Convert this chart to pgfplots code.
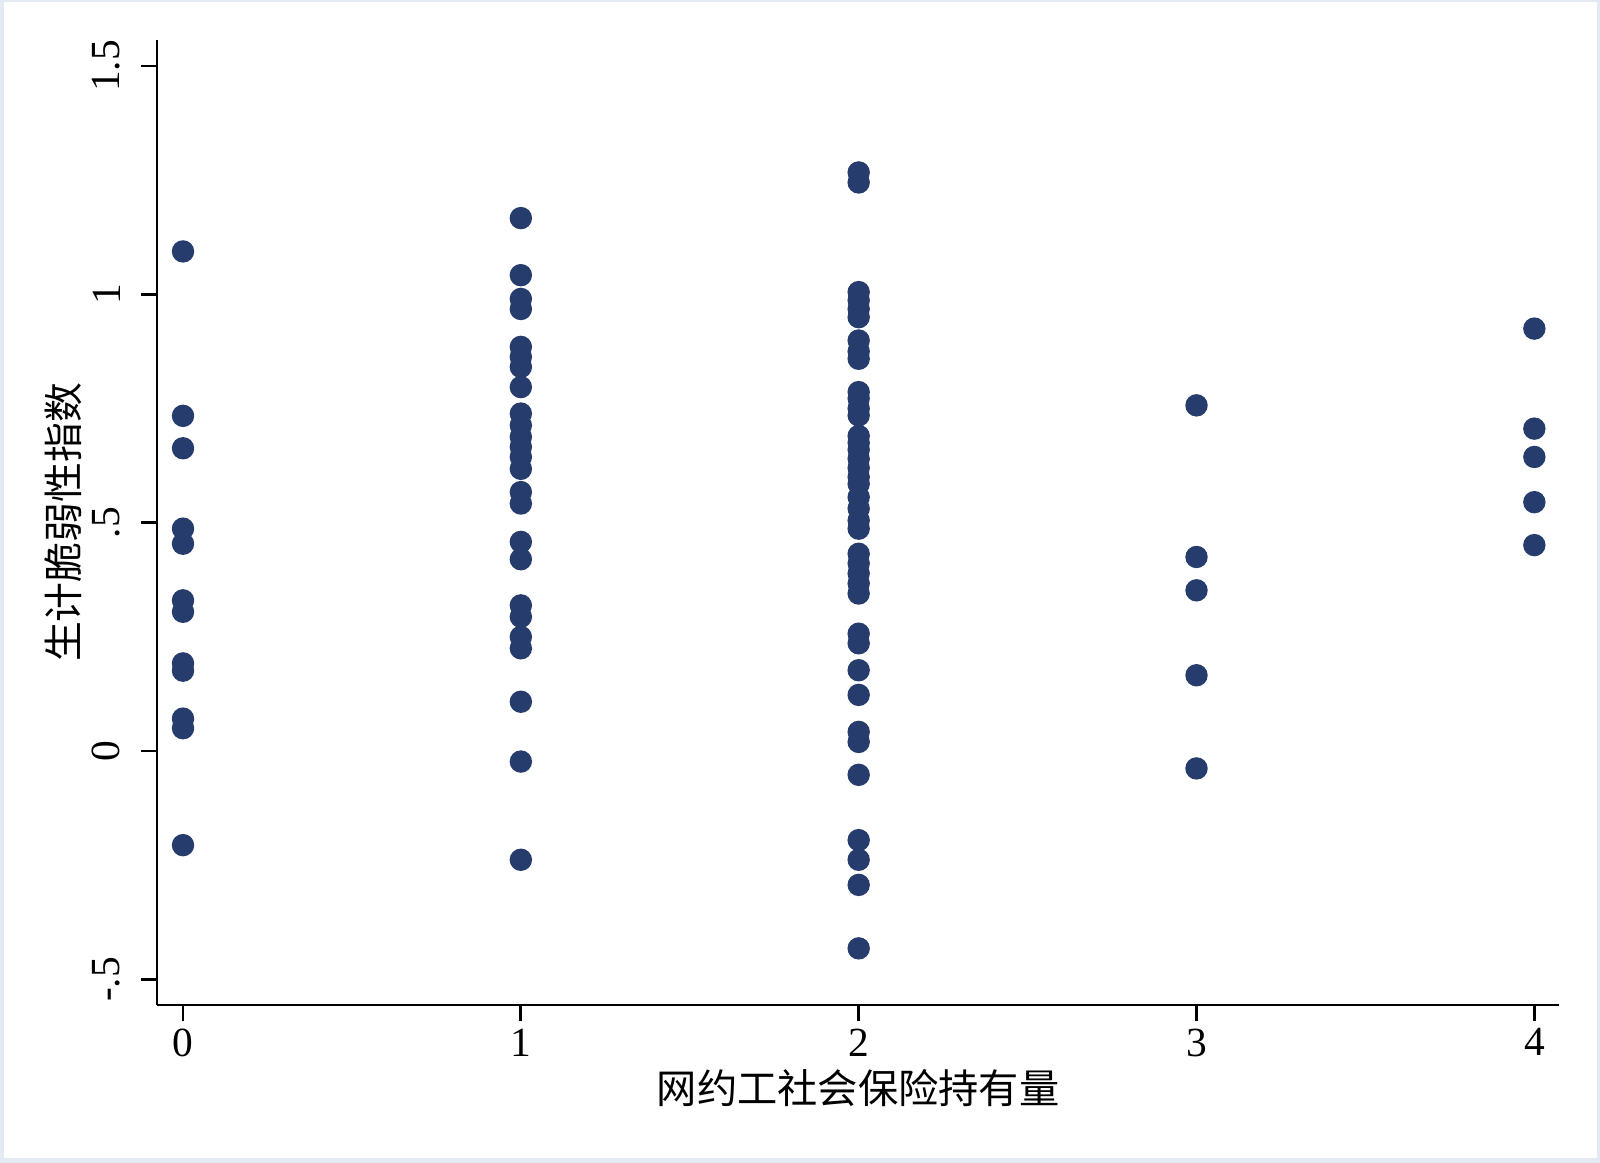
\documentclass[border=0pt]{standalone}
\usepackage{pgfplots}
\pgfplotsset{compat=1.18}
\usepackage{fontspec}
\setmainfont{Liberation Serif}
\newfontfamily\cjk{Noto Sans CJK SC}
\definecolor{framecol}{RGB}{228,234,243}
\definecolor{dotcol}{RGB}{37,60,108}
\pgfplotstableread{
x y
0 1.094
0 0.734
0 0.663
0 0.487
0 0.454
0 0.330
0 0.305
0 0.192
0 0.176
0 0.071
0 0.050
0 -0.206
1 1.167
1 1.042
1 0.990
1 0.968
1 0.885
1 0.863
1 0.841
1 0.797
1 0.739
1 0.713
1 0.688
1 0.666
1 0.644
1 0.618
1 0.567
1 0.542
1 0.458
1 0.420
1 0.319
1 0.294
1 0.250
1 0.225
1 0.108
1 -0.023
1 -0.238
2 1.267
2 1.245
2 1.005
2 0.987
2 0.968
2 0.950
2 0.899
2 0.875
2 0.859
2 0.786
2 0.772
2 0.750
2 0.735
2 0.690
2 0.675
2 0.660
2 0.640
2 0.620
2 0.600
2 0.585
2 0.556
2 0.531
2 0.505
2 0.487
2 0.432
2 0.411
2 0.389
2 0.367
2 0.345
2 0.257
2 0.236
2 0.177
2 0.123
2 0.042
2 0.020
2 -0.052
2 -0.195
2 -0.238
2 -0.293
2 -0.432
3 0.757
3 0.425
3 0.352
3 0.166
3 -0.038
4 0.925
4 0.706
4 0.644
4 0.545
4 0.451
}\datatable
\begin{document}
\begin{tikzpicture}
\useasboundingbox (0,0) rectangle (400bp,290.75bp);
\fill[framecol] (0,0) rectangle (400bp,290.75bp);
\fill[white] (0.9bp,1.3bp) rectangle (399.2bp,290.2bp);
\begin{axis}[
  at={(39.25bp,39.5bp)}, anchor=south west,
  scale only axis,
  width=350.5bp, height=241.25bp,
  xmin=-0.077, xmax=4.073,
  ymin=-0.556, ymax=1.557,
  axis x line*=bottom, axis y line*=left,
  axis line style={-, line width=0.7bp, black},
  every tick/.style={black, line width=0.7bp},
  tick align=outside,
  major tick length=3.9bp,
  xtick={0,1,2,3,4},
  xticklabels={0,1,2,3,4},
  ytick={-0.5,0,0.5,1,1.5},
  yticklabels={-.5,0,.5,1,1.5},
  ticklabel style={font=\fontsize{10.4}{12}\selectfont},
  yticklabel style={rotate=90, anchor=south},
  yticklabel shift=1.8bp,
  xticklabel shift=-1.5bp,
  xlabel={\cjk\fontsize{10.1}{12}\selectfont 网约工社会保险持有量},
  ylabel={\cjk\fontsize{10}{12}\selectfont 生计脆弱性指数},
  xlabel style={at={(axis description cs:0.5,-0.086)}, anchor=center},
  ylabel style={at={(axis description cs:-0.067,0.5)}, anchor=center, rotate=0},
  clip=false,
]
\addplot[only marks, mark=*, mark size=2.6bp, color=dotcol, mark options={draw=dotcol, fill=dotcol}] table[x=x,y=y] {\datatable};
\end{axis}
\end{tikzpicture}
\end{document}
